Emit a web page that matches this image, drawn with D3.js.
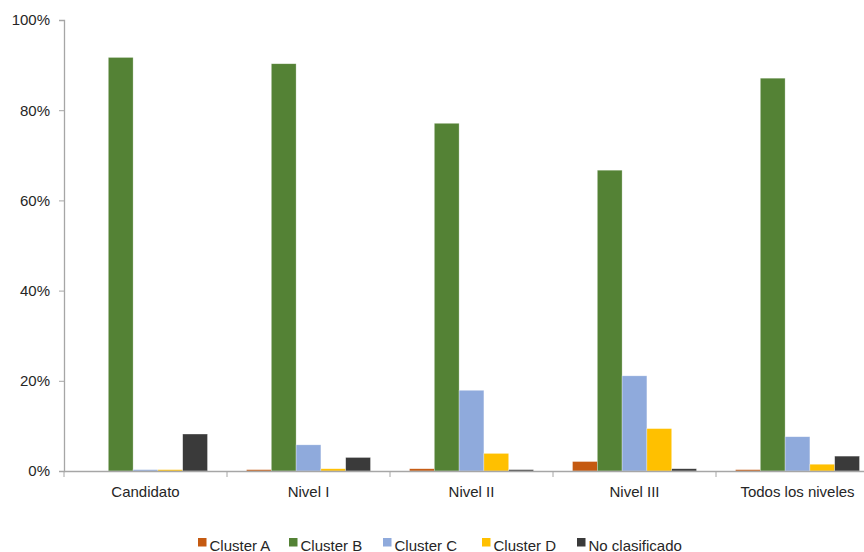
<!DOCTYPE html>
<html>
<head>
<meta charset="utf-8">
<script src="https://cdn.jsdelivr.net/npm/d3@7/dist/d3.min.js"></script>
<style>
  html, body { margin: 0; padding: 0; background: #fff; }
  svg { display: block; font-family: "Liberation Sans", Arial, sans-serif; }
</style>
</head>
<body>
<svg id="chart" width="864" height="552"></svg>
<script>
// Categories (certification levels)
const categories = ["Candidato", "Nivel I", "Nivel II", "Nivel III", "Todos los niveles"];

// Series names
const seriesNames = ["Cluster A", "Cluster B", "Cluster C", "Cluster D", "No clasificado"];

// Share (%) per category for each series
const clusterA      = [0.0, 0.3, 0.5, 2.1, 0.3];
const clusterB      = [91.7, 90.3, 77.1, 66.7, 87.1];
const clusterC      = [0.3, 5.8, 17.9, 21.1, 7.6];
const clusterD      = [0.3, 0.5, 3.9, 9.4, 1.5];
const noClasificado = [8.2, 3.0, 0.3, 0.5, 3.3];

// Y-axis ticks
const yTicks = [0, 20, 40, 60, 80, 100];

const seriesValues = [clusterA, clusterB, clusterC, clusterD, noClasificado];
const colors = ["#C55A11", "#548235", "#8FAADC", "#FFC000", "#3A3A3A"];

const svg = d3.select("#chart");
const axisColor = "#A6A6A6";
const textColor = "#262626";
const fontSize = "15px";

const plotLeft = 64, plotTop = 20, plotBottom = 471;
const bandWidth = 163;

const x = d3.scaleBand()
  .domain(categories)
  .range([plotLeft, plotLeft + bandWidth * categories.length])
  .padding(0);

const xInner = d3.scaleBand()
  .domain(seriesNames)
  .range([19.5, bandWidth - 19.5])
  .padding(0);

const y = d3.scaleLinear().domain([0, 100]).range([plotBottom, plotTop]);

// Bars
const groups = svg.append("g")
  .selectAll("g")
  .data(categories)
  .join("g")
  .attr("transform", d => `translate(${x(d)},0)`);

groups.selectAll("rect")
  .data((c, ci) => seriesNames.map((s, si) => ({ s, si, v: seriesValues[si][ci] })))
  .join("rect")
  .attr("x", d => xInner(d.s))
  .attr("width", xInner.bandwidth())
  .attr("y", d => y(d.v))
  .attr("height", d => y(0) - y(d.v))
  .attr("fill", d => colors[d.si])
  .attr("stroke", "#ffffff")
  .attr("stroke-opacity", 0.5)
  .attr("stroke-width", 0.6);

// Y axis
const yAxis = svg.append("g")
  .attr("transform", `translate(${plotLeft},0)`)
  .call(d3.axisLeft(y).tickValues(yTicks).tickSize(5).tickPadding(9).tickFormat(d => d + "%"));
yAxis.select(".domain").attr("stroke", axisColor).attr("stroke-width", 1.3);
yAxis.selectAll(".tick line").attr("stroke", axisColor);
yAxis.selectAll(".tick text")
  .attr("fill", textColor)
  .style("font-size", fontSize)
  .style("font-family", "'Liberation Sans', Arial, sans-serif");

// X axis
const xAxis = svg.append("g")
  .attr("transform", `translate(0,${plotBottom})`)
  .call(d3.axisBottom(x).tickSize(0).tickPadding(15));
xAxis.select(".domain").attr("stroke", axisColor).attr("stroke-width", 1.3);
xAxis.selectAll(".tick text")
  .attr("fill", textColor)
  .style("font-size", fontSize)
  .style("font-family", "'Liberation Sans', Arial, sans-serif");

// Category separator ticks
svg.append("g")
  .selectAll("line")
  .data(d3.range(categories.length + 1))
  .join("line")
  .attr("x1", i => plotLeft + i * bandWidth)
  .attr("x2", i => plotLeft + i * bandWidth)
  .attr("y1", plotBottom)
  .attr("y2", plotBottom + 6)
  .attr("stroke", axisColor)
  .attr("stroke-width", 1);

// Legend
const legendX = [198, 289, 383, 482, 577];
const legend = svg.append("g")
  .selectAll("g")
  .data(seriesNames)
  .join("g")
  .attr("transform", (d, i) => `translate(${legendX[i]},538)`);
legend.append("rect")
  .attr("width", 8.5)
  .attr("height", 8.5)
  .attr("fill", (d, i) => colors[i]);
legend.append("text")
  .attr("x", 11.5)
  .attr("y", 12.5)
  .attr("fill", textColor)
  .style("font-size", fontSize)
  .text(d => d);
</script>
</body>
</html>
